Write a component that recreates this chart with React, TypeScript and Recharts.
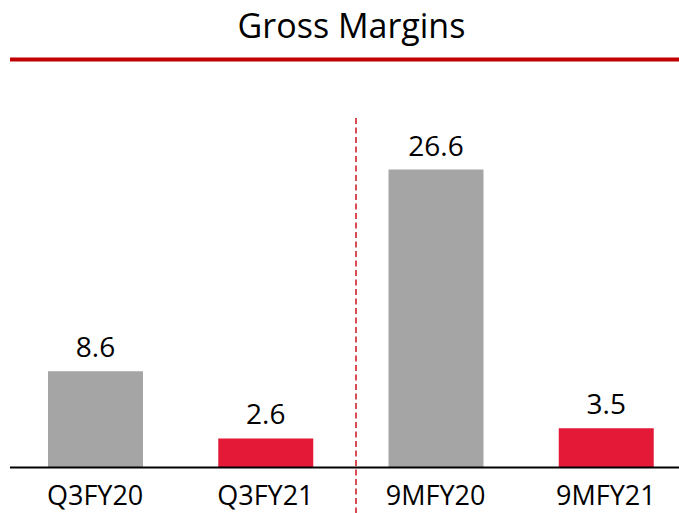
import React from "react";
import { BarChart, Bar, XAxis, YAxis, Cell, LabelList } from "recharts";

const categories = ["Q3FY20", "Q3FY21", "9MFY20", "9MFY21"];
const values = [8.6, 2.6, 26.6, 3.5];
const barColors = ["#a5a5a5", "#e31937", "#a5a5a5", "#e31937"];
const title = "Gross Margins";

const data = categories.map((c, i) => ({ name: c, value: values[i] }));

const FONT = "'Open Sans', 'Liberation Sans', sans-serif";

export default function App() {
  return (
    <div
      style={{
        position: "absolute",
        left: 0,
        top: 0,
        width: 679,
        height: 513,
        overflow: "hidden",
        background: "#fff",
      }}
    >
      <svg
        width={679}
        height={513}
        style={{ position: "absolute", left: 0, top: 0, pointerEvents: "none" }}
      >
        <text
          x={351.5}
          y={37.7}
          textAnchor="middle"
          fontFamily={FONT}
          fontSize={34}
          fill="#000"
        >
          {title}
        </text>
        <rect x={10} y={57.5} width={669} height={4} fill="#c00000" />
        <line
          x1={356}
          y1={118}
          x2={356}
          y2={513}
          stroke="#d0202c"
          strokeWidth={1.6}
          strokeDasharray="6 3.5"
        />
      </svg>
      <div style={{ position: "absolute", left: 0, top: 0 }}>
        <BarChart
          width={700}
          height={513}
          data={data}
          margin={{ top: 131.5, right: 9, bottom: 0, left: 10 }}
          barSize={95}
        >
          <YAxis hide domain={[0, 30]} />
          <XAxis
            dataKey="name"
            height={45.5}
            axisLine={{ stroke: "#000", strokeWidth: 2 }}
            tickLine={false}
            tickSize={0}
            tickMargin={18.5}
            tick={{ fontSize: 27, fill: "#000", fontFamily: FONT }}
            interval={0}
          />
          <Bar dataKey="value" isAnimationActive={false}>
            {data.map((d, i) => (
              <Cell key={d.name} fill={barColors[i]} />
            ))}
            <LabelList
              dataKey="value"
              position="top"
              offset={14}
              fontSize={28}
              fill="#000"
              fontFamily={FONT}
              formatter={(v: number) => v.toFixed(1)}
            />
          </Bar>
        </BarChart>
      </div>
    </div>
  );
}
